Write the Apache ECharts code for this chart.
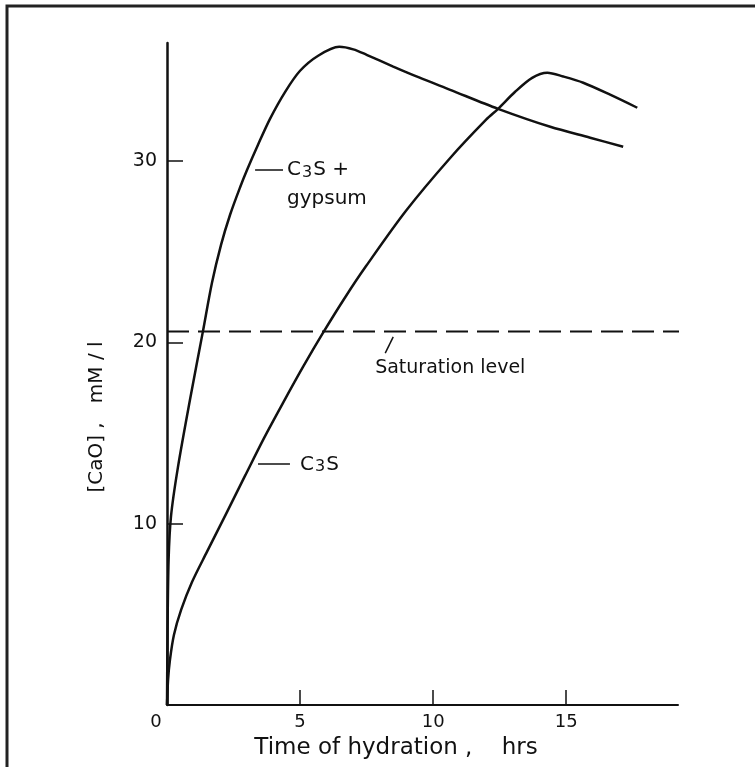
<!DOCTYPE html>
<html>
<head>
<meta charset="utf-8">
<script src="https://cdn.jsdelivr.net/npm/echarts@6/dist/echarts.min.js"></script>
<style>
  html, body { margin: 0; padding: 0; background: #fff; }
  #chart { width: 755px; height: 767px; }
</style>
</head>
<body>
<div id="chart"></div>
<script>
// ---- data ----
var gypsumTime = [0, 0.02, 0.06, 0.15, 0.41, 0.86, 1.35, 1.69, 2.03, 2.37, 2.74, 3.01, 3.42, 3.87, 4.44, 5.0, 5.68, 6.47, 7.0, 7.5, 8.5, 9.47, 10.64, 12.44, 14.4, 15.9, 17.14];
var gypsumCaO  = [0, 4, 8, 10.4, 13.1, 16.8, 20.6, 23.28, 25.37, 27.03, 28.52, 29.51, 30.89, 32.32, 33.81, 34.97, 35.8, 36.29, 36.15, 35.85, 35.2, 34.6, 33.92, 32.87, 31.88, 31.28, 30.78];

var c3sTime = [0, 0.04, 0.11, 0.26, 0.53, 0.94, 1.5, 2.22, 2.93, 3.65, 4.36, 5.11, 5.9, 6.69, 7.48, 8.98, 10.64, 11.99, 12.44, 13.08, 13.72, 14.29, 14.89, 15.64, 16.65, 17.67];
var c3sCaO  = [0, 1.38, 2.48, 3.86, 5.24, 6.78, 8.44, 10.54, 12.63, 14.73, 16.66, 18.64, 20.61, 22.47, 24.2, 27.25, 30.16, 32.27, 32.87, 33.81, 34.58, 34.86, 34.65, 34.31, 33.65, 32.93];

var saturationTime = [0, 19.3];
var saturationCaO  = [20.6, 20.6];

var xTickValues = [0, 5, 10, 15];
var yTickValues = [10, 20, 30];

function pairs(xs, ys) { return xs.map(function (x, i) { return [x, ys[i]]; }); }

var FONT = 'DejaVu Sans';
var INK = '#111';

var chart = echarts.init(document.getElementById('chart'), null, { renderer: 'canvas' });

var subRich = {
  n: { fontSize: 20, lineHeight: 21, color: INK, fontFamily: FONT, verticalAlign: 'middle' },
  s: { fontSize: 16, lineHeight: 16, color: INK, fontFamily: FONT, padding: [10, 1, 0, 1], verticalAlign: 'bottom' },
  p: { fontSize: 20, lineHeight: 21, color: INK, fontFamily: FONT, verticalAlign: 'middle' },
  t: { fontSize: 19, lineHeight: 20, color: INK, fontFamily: FONT, verticalAlign: 'middle' }
};

var option = {
  animation: false,
  backgroundColor: '#fff',
  grid: { left: 167, right: 77, top: 43, bottom: 62, containLabel: false, show: false },
  xAxis: {
    type: 'value', min: 0, max: 19.2,
    axisLine: { show: true, lineStyle: { color: INK, width: 2 } },
    axisTick: { show: true, inside: true, length: 15, customValues: [5, 10, 15], lineStyle: { color: INK, width: 1.5 } },
    axisLabel: {
      show: true, customValues: xTickValues, margin: 8,
      fontSize: 18, fontFamily: FONT, color: INK,
      formatter: function (v) { return v === 0 ? '{z|0}' : String(v); },
      rich: { z: { fontSize: 18, fontFamily: FONT, color: INK, padding: [0, 22, 0, 0] } }
    },
    splitLine: { show: false }
  },
  yAxis: {
    type: 'value', min: 0, max: 36.5,
    axisLine: { show: true, lineStyle: { color: INK, width: 2.5 } },
    axisTick: { show: true, inside: true, length: 16, customValues: yTickValues, lineStyle: { color: INK, width: 1.5 } },
    axisLabel: { show: true, customValues: yTickValues, margin: 10, fontSize: 19, fontFamily: FONT, color: INK },
    splitLine: { show: false }
  },
  graphic: [
    { type: 'polyline', shape: { points: [[7, 767], [7, 6], [755, 6]] }, style: { stroke: '#222', lineWidth: 3, fill: null } },
    { type: 'text', x: 396, y: 748, style: { text: 'Time of hydration ,    hrs', font: '23px "DejaVu Sans"', fill: INK, align: 'center', verticalAlign: 'middle' } },
    { type: 'text', x: 97, y: 417, rotation: Math.PI / 2, style: { text: '[CaO] ,   mM / l', font: '20px "DejaVu Sans"', fill: INK, align: 'center', verticalAlign: 'middle' } }
  ],
  series: [
    {
      name: 'C3S + gypsum', type: 'line', data: pairs(gypsumTime, gypsumCaO),
      showSymbol: false, symbol: 'none', smooth: 0.3,
      lineStyle: { color: INK, width: 2.5 }
    },
    {
      name: 'C3S', type: 'line', data: pairs(c3sTime, c3sCaO),
      showSymbol: false, symbol: 'none', smooth: 0.3,
      lineStyle: { color: INK, width: 2.5 }
    },
    {
      name: 'Saturation level', type: 'line', data: pairs(saturationTime, saturationCaO),
      showSymbol: false, symbol: 'none',
      lineStyle: { color: INK, width: 2, type: [22, 9] },
      markLine: {
        silent: true, symbol: ['none', 'none'], label: { show: false },
        lineStyle: { color: INK, width: 1.5, type: 'solid' },
        data: [
          [{ coord: [3.31, 29.5] }, { coord: [4.36, 29.5] }],
          [{ coord: [3.42, 13.3] }, { coord: [4.62, 13.3] }],
          [{ coord: [8.5, 20.3] }, { coord: [8.2, 19.4] }]
        ]
      }
    },
    {
      name: 'labels', type: 'scatter', symbolSize: 0, silent: true,
      itemStyle: { opacity: 1 },
      data: [
        { value: [4.51, 29.5], label: { formatter: '{n|C}{s|3}{p|S +}' } },
        { value: [4.51, 27.9], label: { formatter: '{n|gypsum}' } },
        { value: [5.0, 13.25], label: { formatter: '{n|C}{s|3}{p|S}' } },
        { value: [7.82, 18.6], label: { formatter: '{t|Saturation level}' } }
      ],
      label: { show: true, position: 'right', distance: 0, color: INK, opacity: 1, rich: subRich }
    }
  ]
};
chart.setOption(option);
</script>
</body>
</html>
